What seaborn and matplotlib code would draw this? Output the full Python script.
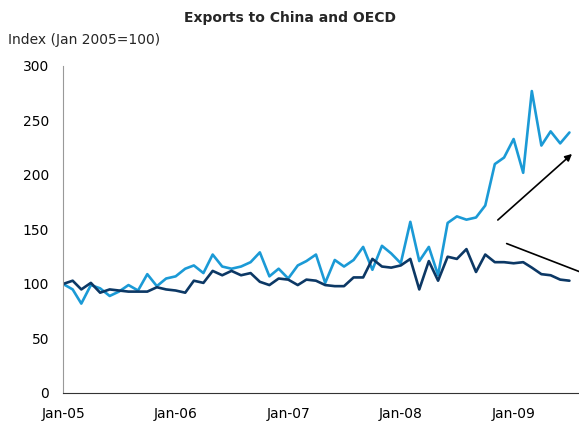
import pandas as pd
import matplotlib
matplotlib.use('Agg')
import matplotlib.pyplot as plt
import seaborn as sns

# monthly index values, Jan 2005 .. Jul 2009
months = pd.date_range('2005-01-01', periods=55, freq='MS')
china = [100, 95, 82, 99, 96, 89, 93, 99, 94, 109, 98, 105, 107, 114, 117, 110,
         127, 116, 114, 116, 120, 129, 107, 114, 105, 117, 121, 127, 101, 122,
         116, 122, 134, 113, 135, 128, 119, 157, 121, 134, 108, 156, 162, 159,
         161, 172, 210, 216, 233, 202, 277, 227, 240, 229, 239]
oecd = [100, 103, 95, 101, 92, 95, 94, 93, 93, 93, 97, 95, 94, 92, 103, 101,
        112, 108, 112, 108, 110, 102, 99, 105, 104, 99, 104, 103, 99, 98, 98,
        106, 106, 123, 116, 115, 117, 123, 95, 121, 103, 125, 123, 132, 111,
        127, 120, 120, 119, 120, 115, 109, 108, 104, 103]
tick_labels = ['Jan-05', 'Jan-06', 'Jan-07', 'Jan-08', 'Jan-09']
tick_dates = pd.to_datetime(['2005-01-01', '2006-01-01', '2007-01-01', '2008-01-01', '2009-01-01'])

df = pd.DataFrame({'month': list(months) * 2,
                   'value': china + oecd,
                   'series': ['China'] * 55 + ['OECD'] * 55})

sns.set_style('white')
plt.rcParams['font.family'] = ['DejaVu Sans']

fig = plt.figure(figsize=(5.79, 4.23), dpi=100)
ax = fig.add_axes([0.109, 0.071, 0.891, 0.773])

sns.lineplot(data=df, x='month', y='value', hue='series',
             palette={'China': '#1b9ad6', 'OECD': '#0c3865'},
             linewidth=1.9, legend=False, ax=ax)

ax.set_xlim(pd.Timestamp('2005-01-01'), pd.Timestamp('2009-08-01'))
ax.set_ylim(0, 300)
ax.set_yticks(range(0, 301, 50))
ax.set_xticks(tick_dates)
ax.set_xticklabels(tick_labels)
ax.set_xlabel('')
ax.set_ylabel('')
ax.tick_params(axis='both', direction='out', length=4, width=0.8,
               color='#555555', labelsize=10, labelcolor='black', pad=6)

for s in ['top', 'right']:
    ax.spines[s].set_visible(False)
ax.spines['left'].set_color('#999999')
ax.spines['bottom'].set_color('#333333')

# trend arrows (the second one runs off the edge, head cut off)
ax.annotate('', xy=(months[54] + pd.Timedelta(days=15), 221),
            xytext=(months[46] + pd.Timedelta(days=3), 157),
            arrowprops=dict(arrowstyle='-|>', color='black', lw=1.2,
                            mutation_scale=10), annotation_clip=False)
ax.annotate('', xy=(pd.Timestamp('2009-09-20'), 106),
            xytext=(months[47], 138),
            arrowprops=dict(arrowstyle='-|>', color='black', lw=1.2,
                            mutation_scale=10), annotation_clip=False)

fig.text(0.5, 0.958, 'Exports to China and OECD', ha='center', va='center',
         fontsize=10, fontweight='bold')
fig.text(0.014, 0.905, 'Index (Jan 2005=100)', ha='left', va='center', fontsize=10)

fig.savefig('out.png', dpi=100)
